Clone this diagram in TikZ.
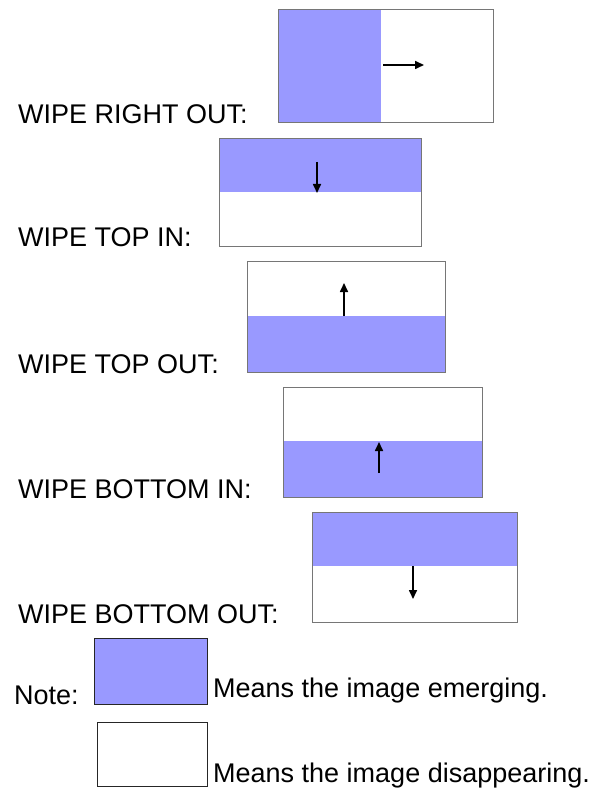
\documentclass[tikz,border=0pt]{standalone}
\usepackage{fontspec}
\setmainfont{Liberation Sans}
\usetikzlibrary{arrows.meta}
\definecolor{emerge}{HTML}{9999FF}
\definecolor{frame}{HTML}{767676}
\tikzset{
  lbl/.style={anchor=base west, inner sep=0pt, font=\fontsize{27}{31}\selectfont},
  panel/.style={draw=frame, line width=1pt},
  notepanel/.style={draw=black!85, line width=1pt},
  fillpart/.style={fill=emerge},
  move/.style={line width=1.6pt, -{Triangle[length=9pt,width=8pt]}}
}
\begin{document}
\begin{tikzpicture}[x=1pt,y=-1pt]
\useasboundingbox (0,0) rectangle (614,794);
% Panel 1: wipe right out
\fill[fillpart] (278,10) rectangle (381,123);
\draw[panel] (278,10) rectangle (493,123);
\coordinate (a1s) at (383,65); \coordinate (a1e) at (424,65);
\draw[move] (a1s) -- (a1e);
\node[lbl] (l1) at (18,124) {WIPE RIGHT OUT:};
% Panel 2: wipe top in
\fill[fillpart] (219,139) rectangle (421,192);
\draw[panel] (219,139) rectangle (421,246);
\coordinate (a2s) at (317,162); \coordinate (a2e) at (317,193);
\draw[move] (a2s) -- (a2e);
\node[lbl] (l2) at (18,247) {WIPE TOP IN:};
% Panel 3: wipe top out
\fill[fillpart] (247,316) rectangle (445,372);
\draw[panel] (247,261) rectangle (445,372);
\coordinate (a3s) at (344,316); \coordinate (a3e) at (344,283);
\draw[move] (a3s) -- (a3e);
\node[lbl] (l3) at (18,373) {WIPE TOP OUT:};
% Panel 4: wipe bottom in
\fill[fillpart] (283,441) rectangle (482,497);
\draw[panel] (283,387) rectangle (482,497);
\coordinate (a4s) at (379,473); \coordinate (a4e) at (379,442);
\draw[move] (a4s) -- (a4e);
\node[lbl] (l4) at (18,498) {WIPE BOTTOM IN:};
% Panel 5: wipe bottom out
\fill[fillpart] (312,512) rectangle (517,566);
\draw[panel] (312,512) rectangle (517,622);
\coordinate (a5s) at (413,566); \coordinate (a5e) at (413,599);
\draw[move] (a5s) -- (a5e);
\node[lbl] (l5) at (18,623) {WIPE BOTTOM OUT:};
% Note
\node[lbl] (note) at (14,704) {Note:};
\fill[fillpart] (94,638) rectangle (207,704);
\draw[notepanel] (94,638) rectangle (207,704);
\node[lbl] (m1) at (213,697) {Means the image emerging.};
\draw[notepanel] (97,722) rectangle (207,786);
\node[lbl] (m2) at (213,782) {Means the image disappearing.};
\end{tikzpicture}
\end{document}
